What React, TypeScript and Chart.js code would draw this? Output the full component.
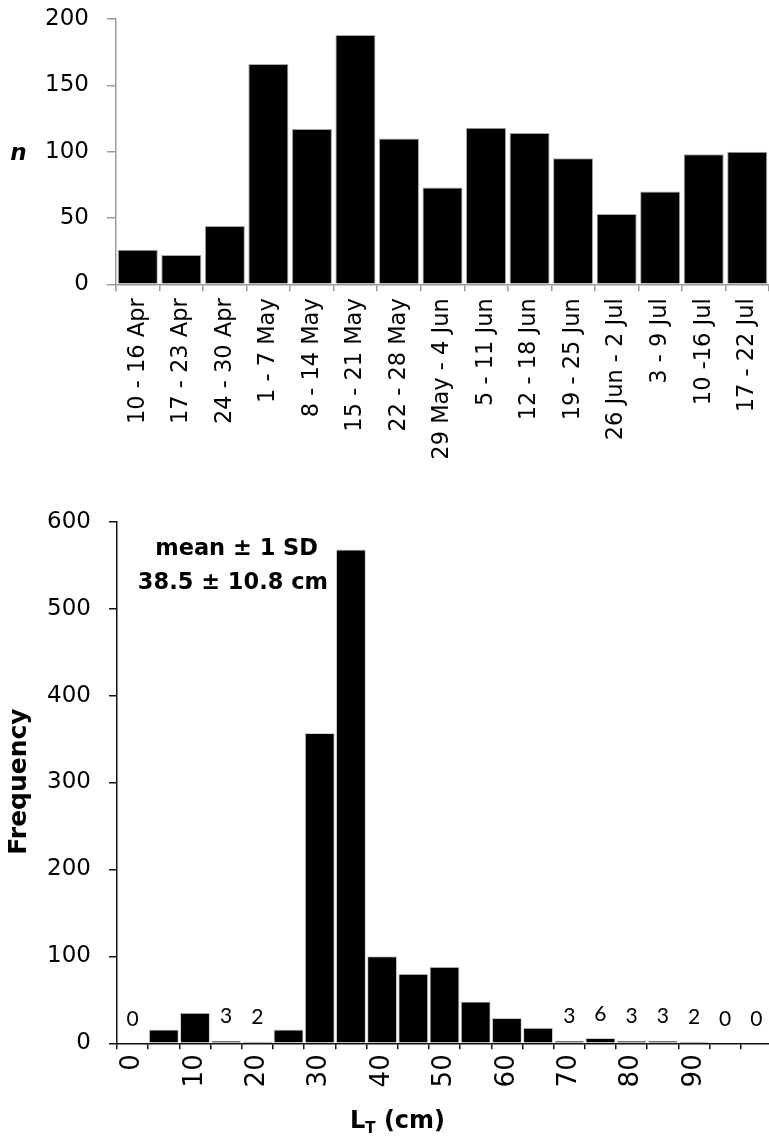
import React, { useEffect, useRef } from 'react';
import { Chart, registerables } from 'chart.js';

Chart.register(...registerables);

// ---------- Top panel: weekly counts ----------
const weekLabels = [
  '10 - 16 Apr', '17 - 23 Apr', '24 - 30 Apr', '1 - 7 May', '8 - 14 May',
  '15 - 21 May', '22 - 28 May', '29 May - 4 Jun', '5 - 11 Jun', '12 - 18 Jun',
  '19 - 25 Jun', '26 Jun - 2 Jul', '3 - 9 Jul', '10 -16 Jul', '17 - 22 Jul',
];
const weekCounts = [26, 22, 44, 166, 117, 188, 110, 73, 118, 114, 95, 53, 70, 98, 100];
const weekYTicks = [0, 50, 100, 150, 200];

// ---------- Bottom panel: length-frequency ----------
const lengthBins = ['0', '5', '10', '15', '20', '25', '30', '35', '40', '45', '50', '55', '60', '65', '70', '75', '80', '85', '90', '95', '100'];
const lengthTickLabels = ['0', '', '10', '', '20', '', '30', '', '40', '', '50', '', '60', '', '70', '', '80', '', '90', '', ''];
const lengthCounts = [0, 16, 35, 3, 2, 16, 357, 568, 100, 80, 88, 48, 29, 18, 3, 6, 3, 3, 2, 0, 0];
const labelledBins = [0, 3, 4, 14, 15, 16, 17, 18, 19, 20];
const freqYTicks = [0, 100, 200, 300, 400, 500, 600];
const statsLines = ['mean ± 1 SD', '38.5 ± 10.8 cm'];

const FONT = 'DejaVu Sans';

const TOP_W = 769;
const TOP_H = 490;
const BOT_W = 772;
const BOT_H = 647;

export default function App() {
  const topRef = useRef<HTMLCanvasElement | null>(null);
  const botRef = useRef<HTMLCanvasElement | null>(null);

  useEffect(() => {
    Chart.defaults.font.family = FONT;

    const topPlugin = {
      id: 'topTexts',
      afterDraw(chart: any) {
        const ctx = chart.ctx;
        ctx.save();
        ctx.fillStyle = '#000';
        ctx.font = `italic bold 23px "${FONT}"`;
        ctx.textAlign = 'center';
        ctx.textBaseline = 'middle';
        ctx.fillText('n', 18.5, 154);
        ctx.restore();
      },
    };

    const top = new Chart(topRef.current as HTMLCanvasElement, {
      type: 'bar',
      data: {
        labels: weekLabels,
        datasets: [
          {
            data: weekCounts,
            backgroundColor: '#000000',
            borderColor: '#a8a8a8',
            borderWidth: 1,
            barPercentage: 0.92,
            categoryPercentage: 1,
          },
        ],
      },
      options: {
        responsive: false,
        animation: false,
        devicePixelRatio: 1,
        layout: { padding: { top: 19, left: 0, right: 0, bottom: 0 } },
        plugins: { legend: { display: false }, tooltip: { enabled: false } },
        scales: {
          x: {
            type: 'category',
            offset: true,
            grid: { offset: true, drawOnChartArea: false, tickLength: 7, color: '#9a9a9a', lineWidth: 1.5 },
            border: { display: true, color: '#9a9a9a', width: 1.5 },
            ticks: {
              autoSkip: false,
              minRotation: 90,
              maxRotation: 90,
              padding: 7,
              color: '#000',
              font: { family: FONT, size: 22.5 },
            },
            afterFit: (s: any) => {
              s.height = TOP_H - 284.3;
              s.paddingLeft = 0;
              s.paddingRight = 0;
            },
          },
          y: {
            min: weekYTicks[0],
            max: weekYTicks[weekYTicks.length - 1],
            ticks: {
              stepSize: weekYTicks[1] - weekYTicks[0],
              padding: 18,
              color: '#000',
              font: { family: FONT, size: 23 },
            },
            grid: { drawOnChartArea: false, tickLength: 9, color: '#9a9a9a', lineWidth: 1.5 },
            border: { display: true, color: '#9a9a9a', width: 1.5 },
            afterFit: (s: any) => {
              s.width = 116;
              s.paddingTop = 0;
              s.paddingBottom = 0;
            },
          },
        },
      },
      plugins: [topPlugin],
    });

    const botPlugin = {
      id: 'botTexts',
      afterDatasetsDraw(chart: any) {
        const ctx = chart.ctx;
        const meta = chart.getDatasetMeta(0);
        ctx.save();
        ctx.fillStyle = '#000';
        ctx.font = '21px "Lato"';
        ctx.textAlign = 'center';
        ctx.textBaseline = 'middle';
        labelledBins.forEach((i) => {
          const el = meta.data[i];
          ctx.fillText(String(lengthCounts[i]), el.x, el.y - 24);
        });
        ctx.restore();
      },
      afterDraw(chart: any) {
        const ctx = chart.ctx;
        ctx.save();
        ctx.fillStyle = '#000';
        // stats text
        ctx.font = `bold 22.5px "${FONT}"`;
        ctx.textAlign = 'right';
        ctx.textBaseline = 'alphabetic';
        ctx.fillText(statsLines[0], 318, 65);
        ctx.fillText(statsLines[1], 328, 99.3);
        // y title
        ctx.save();
        ctx.translate(19, 291.5);
        ctx.rotate(-Math.PI / 2);
        ctx.textAlign = 'center';
        ctx.textBaseline = 'middle';
        ctx.font = `bold 25px "${FONT}"`;
        ctx.fillText('Frequency', 0, 0);
        ctx.restore();
        // x title  L_T (cm)
        ctx.textAlign = 'left';
        ctx.textBaseline = 'alphabetic';
        let x = 350;
        const base = 638.3;
        ctx.font = `bold 24px "${FONT}"`;
        ctx.fillText('L', x, base);
        x += ctx.measureText('L').width;
        ctx.font = `bold 15px "${FONT}"`;
        ctx.fillText('T', x, base + 5);
        x += ctx.measureText('T').width;
        ctx.font = `bold 24px "${FONT}"`;
        ctx.fillText(' (cm)', x, base);
        ctx.restore();
      },
    };

    const bot = new Chart(botRef.current as HTMLCanvasElement, {
      type: 'bar',
      data: {
        labels: lengthBins,
        datasets: [
          {
            data: lengthCounts,
            backgroundColor: '#000000',
            borderColor: '#d0d0d0',
            borderWidth: 1,
            barPercentage: 0.96,
            categoryPercentage: 1,
          },
        ],
      },
      options: {
        responsive: false,
        animation: false,
        devicePixelRatio: 1,
        layout: { padding: { top: 31.7, left: 0, right: 0, bottom: 0 } },
        plugins: { legend: { display: false }, tooltip: { enabled: false } },
        scales: {
          x: {
            type: 'category',
            offset: true,
            grid: { offset: true, drawOnChartArea: false, tickLength: 6, color: '#111', lineWidth: 1.5 },
            border: { display: true, color: '#111', width: 1.5 },
            ticks: {
              autoSkip: false,
              minRotation: 90,
              maxRotation: 90,
              padding: 5,
              color: '#000',
              font: { family: FONT, size: 26 },
              callback: (_v: any, i: number) => lengthTickLabels[i],
            },
            afterFit: (s: any) => {
              s.height = BOT_H - 553.3;
              s.paddingLeft = 0;
              s.paddingRight = 0;
            },
          },
          y: {
            min: freqYTicks[0],
            max: freqYTicks[freqYTicks.length - 1],
            ticks: {
              stepSize: freqYTicks[1] - freqYTicks[0],
              padding: 18,
              color: '#000',
              font: { family: FONT, size: 23 },
            },
            grid: { drawOnChartArea: false, tickLength: 8, color: '#111', lineWidth: 1.5 },
            border: { display: true, color: '#111', width: 1.5 },
            afterFit: (s: any) => {
              s.width = 117;
              s.paddingTop = 0;
              s.paddingBottom = 0;
            },
          },
        },
      },
      plugins: [botPlugin],
    });

    return () => {
      top.destroy();
      bot.destroy();
    };
  }, []);

  return (
    <div
      style={{
        position: 'absolute',
        left: 0,
        top: 0,
        width: 769,
        height: 1137,
        overflow: 'hidden',
        background: '#fff',
      }}
    >
      <canvas
        ref={topRef}
        width={TOP_W}
        height={TOP_H}
        style={{ position: 'absolute', left: 0, top: 0, width: TOP_W, height: TOP_H }}
      />
      <canvas
        ref={botRef}
        width={BOT_W}
        height={BOT_H}
        style={{ position: 'absolute', left: 0, top: TOP_H, width: BOT_W, height: BOT_H }}
      />
    </div>
  );
}
